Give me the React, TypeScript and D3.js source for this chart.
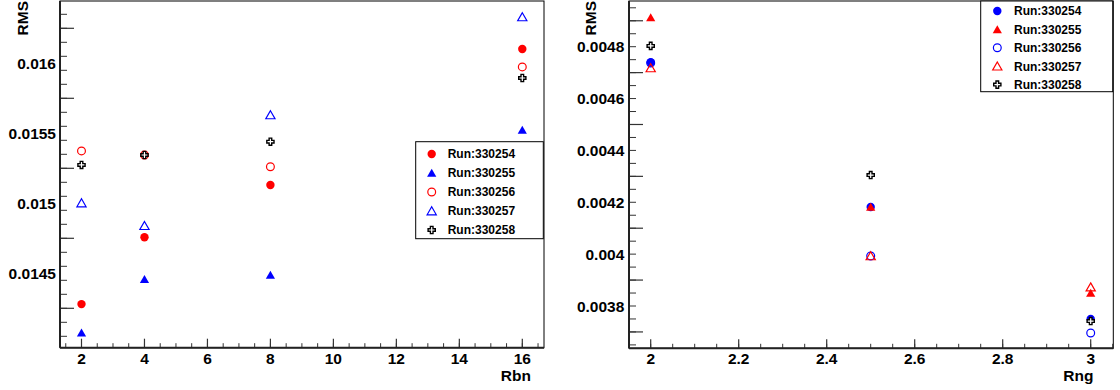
import React from "react";
import * as d3 from "d3";

const runLabels = ["Run:330254", "Run:330255", "Run:330256", "Run:330257", "Run:330258"];

const rbnValues = [2, 4, 8, 16];
const rbnRms254 = [0.01428, 0.014757, 0.015131, 0.016102];
const rbnRms255 = [0.014076, 0.014457, 0.014488, 0.015524];
const rbnRms256 = [0.015374, 0.015345, 0.015261, 0.015974];
const rbnRms257 = [0.015002, 0.01484, 0.015631, 0.016331];
const rbnRms258 = [0.015274, 0.015345, 0.01544, 0.015895];

const rngValues = [2, 2.5, 3];
const rngRms254 = [0.00474, 0.004182, 0.00375];
const rngRms255 = [0.004913, 0.004182, 0.00385];
const rngRms256 = [0.004737, 0.003993, 0.003696];
const rngRms257 = [0.004718, 0.003993, 0.003873];
const rngRms258 = [0.004803, 0.004305, 0.003742];

const rbnXTicks = [2, 4, 6, 8, 10, 12, 14, 16];
const rbnYLabels = [0.0145, 0.015, 0.0155, 0.016];
const rngXTicks = [2, 2.2, 2.4, 2.6, 2.8, 3];
const rngYLabels = [0.0038, 0.004, 0.0042, 0.0044, 0.0046, 0.0048];

const FONT = "'Liberation Sans', Arial, Helvetica, sans-serif";
const RED = "#ff0000";
const BLUE = "#0000ff";

type MarkerKind = "fcircle" | "ftri" | "ocircle" | "otri" | "cross";

function Marker({ kind, x, y, color }: { kind: MarkerKind; x: number; y: number; color: string }) {
  const tri = "M0,-4.2 L4.6,3.8 L-4.6,3.8 Z";
  const a = 3.6;
  const b = 1.3;
  const cross = `M${-b},${-a} L${b},${-a} L${b},${-b} L${a},${-b} L${a},${b} L${b},${b} L${b},${a} L${-b},${a} L${-b},${b} L${-a},${b} L${-a},${-b} L${-b},${-b} Z`;
  const t = `translate(${x},${y})`;
  switch (kind) {
    case "fcircle":
      return <circle cx={x} cy={y} r={4.2} fill={color} />;
    case "ocircle":
      return <circle cx={x} cy={y} r={3.9} fill="none" stroke={color} strokeWidth={1.2} />;
    case "ftri":
      return <path d={tri} transform={t} fill={color} />;
    case "otri":
      return <path d={tri} transform={t} fill="none" stroke={color} strokeWidth={1.2} />;
    case "cross":
      return <path d={cross} transform={t} fill="white" stroke={color} strokeWidth={1.4} />;
  }
}

type Series = { values: number[]; kind: MarkerKind; color: string };

type PanelProps = {
  frame: { x0: number; x1: number; y0: number; y1: number };
  xScale: d3.ScaleLinear<number, number>;
  yScale: d3.ScaleLinear<number, number>;
  xValues: number[];
  series: Series[];
  xTicks: number[];
  xMinorStep: number;
  xFmt: (v: number) => string;
  yLabels: number[];
  yMajorStart: number;
  yMajorStep: number;
  yMinorStep: number;
  yFmt: (v: number) => string;
  yLabelRight: number;
  yTitleX: number;
  xTitle: string;
  xTitleEnd: number;
  legend: { x: number; y: number; w: number; h: number; rowY0: number; rowStep: number; markerX: number; textX: number };
};

function Panel(p: PanelProps) {
  const { frame, xScale, yScale } = p;
  const [xd0, xd1] = [xScale.invert(frame.x0), xScale.invert(frame.x1)];
  const [yd0, yd1] = [yScale.invert(frame.y1), yScale.invert(frame.y0)];
  const eps = 1e-9;
  const xMinor: number[] = [];
  for (let v = Math.ceil(xd0 / p.xMinorStep - eps) * p.xMinorStep; v <= xd1 + eps; v += p.xMinorStep) xMinor.push(v);
  const yMinor: number[] = [];
  const yMajor: number[] = [];
  const startIdx = Math.ceil((yd0 - p.yMajorStart) / p.yMinorStep - eps);
  for (let k = startIdx; ; k++) {
    const v = p.yMajorStart + k * p.yMinorStep;
    if (v > yd1 + eps) break;
    yMinor.push(v);
  }
  const mStart = Math.ceil((yd0 - p.yMajorStart) / p.yMajorStep - eps);
  for (let k = mStart; ; k++) {
    const v = p.yMajorStart + k * p.yMajorStep;
    if (v > yd1 + eps) break;
    yMajor.push(v);
  }
  return (
    <g>
      <rect x={frame.x0} y={frame.y0} width={frame.x1 - frame.x0} height={frame.y1 - frame.y0} fill="white" stroke="black" strokeWidth={1} />
      {xMinor.map((v, i) => (
        <line key={"xm" + i} x1={xScale(v)} x2={xScale(v)} y1={frame.y1} y2={frame.y1 - 4.5} stroke="#333" strokeWidth={1} />
      ))}
      {p.xTicks.map((v, i) => (
        <line key={"xM" + i} x1={xScale(v)} x2={xScale(v)} y1={frame.y1} y2={frame.y1 - 9} stroke="#333" strokeWidth={1.2} />
      ))}
      {yMinor.map((v, i) => (
        <line key={"ym" + i} x1={frame.x0} x2={frame.x0 + 7} y1={yScale(v)} y2={yScale(v)} stroke="#333" strokeWidth={1} />
      ))}
      {yMajor.map((v, i) => (
        <line key={"yM" + i} x1={frame.x0} x2={frame.x0 + 14} y1={yScale(v)} y2={yScale(v)} stroke="#333" strokeWidth={1.2} />
      ))}
      <line x1={frame.x0} x2={frame.x0} y1={frame.y0} y2={frame.y1} stroke="#222" strokeWidth={2} />
      <line x1={frame.x0} x2={frame.x1} y1={frame.y1} y2={frame.y1} stroke="#222" strokeWidth={2} />
      {p.xTicks.map((v, i) => (
        <text key={"xl" + i} x={xScale(v)} y={364} textAnchor="middle" fontFamily={FONT} fontWeight="bold" fontSize={15.5}>
          {p.xFmt(v)}
        </text>
      ))}
      {p.yLabels.map((v, i) => (
        <text key={"yl" + i} x={p.yLabelRight} y={yScale(v) + 5.5} textAnchor="end" fontFamily={FONT} fontWeight="bold" fontSize={15.5}>
          {p.yFmt(v)}
        </text>
      ))}
      <text x={p.xTitleEnd} y={381} textAnchor="end" fontFamily={FONT} fontWeight="bold" fontSize={15.5}>
        {p.xTitle}
      </text>
      <text transform={`translate(${p.yTitleX},1) rotate(-90)`} textAnchor="end" fontFamily={FONT} fontWeight="bold" fontSize={15.5}>
        RMS
      </text>
      {p.series.map((s, si) => (
        <g key={"s" + si}>
          {s.values.map((v, i) => (
            <Marker key={i} kind={s.kind} x={xScale(p.xValues[i])} y={yScale(v)} color={s.color} />
          ))}
        </g>
      ))}
      <rect x={p.legend.x} y={p.legend.y} width={p.legend.w} height={p.legend.h} fill="white" stroke="black" strokeWidth={1} />
      {p.series.map((s, si) => {
        const cy = p.legend.rowY0 + si * p.legend.rowStep;
        return (
          <g key={"lg" + si}>
            <Marker kind={s.kind} x={p.legend.markerX} y={cy} color={s.color} />
            <text x={p.legend.textX} y={cy + 4.3} fontFamily={FONT} fontWeight="bold" fontSize={12}>
              {runLabels[si]}
            </text>
          </g>
        );
      })}
    </g>
  );
}

export default function App() {
  const leftX = d3.scaleLinear().domain([2, 16]).range([81.5, 522.3]);
  const leftY = d3.scaleLinear().domain([0.0145, 0.016]).range([273.3, 63.3]);
  const rightX = d3.scaleLinear().domain([2, 3]).range([650.7, 1090.7]);
  const rightY = d3.scaleLinear().domain([0.0038, 0.0048]).range([306, 46.7]);

  const leftSeries: Series[] = [
    { values: rbnRms254, kind: "fcircle", color: RED },
    { values: rbnRms255, kind: "ftri", color: BLUE },
    { values: rbnRms256, kind: "ocircle", color: RED },
    { values: rbnRms257, kind: "otri", color: BLUE },
    { values: rbnRms258, kind: "cross", color: "black" },
  ];
  const rightSeries: Series[] = [
    { values: rngRms254, kind: "fcircle", color: BLUE },
    { values: rngRms255, kind: "ftri", color: RED },
    { values: rngRms256, kind: "ocircle", color: BLUE },
    { values: rngRms257, kind: "otri", color: RED },
    { values: rngRms258, kind: "cross", color: "black" },
  ];

  const fmtX = (v: number) => d3.format("~g")(v);
  const fmtY = (v: number) => String(+v.toPrecision(6));

  return (
    <svg width={1120} height={390} style={{ position: "fixed", left: 0, top: 0, background: "white" }}>
      <rect x={0} y={0} width={1120} height={390} fill="white" />
      <Panel
        frame={{ x0: 60, x1: 544, y0: 1, y1: 347.7 }}
        xScale={leftX}
        yScale={leftY}
        xValues={rbnValues}
        series={leftSeries}
        xTicks={rbnXTicks}
        xMinorStep={0.5}
        xFmt={fmtX}
        yLabels={rbnYLabels}
        yMajorStart={0.01425}
        yMajorStep={0.0005}
        yMinorStep={0.0001}
        yFmt={fmtY}
        yLabelRight={56}
        yTitleX={28}
        xTitle="Rbn"
        xTitleEnd={531}
        legend={{ x: 415.7, y: 141.7, w: 127.6, h: 97, rowY0: 154, rowStep: 19, markerX: 431.7, textX: 447.7 }}
      />
      <Panel
        frame={{ x0: 629, x1: 1113.3, y0: 1, y1: 348.3 }}
        xScale={rightX}
        yScale={rightY}
        xValues={rngValues}
        series={rightSeries}
        xTicks={rngXTicks}
        xMinorStep={0.05}
        xFmt={fmtX}
        yLabels={rngYLabels}
        yMajorStart={0.0037}
        yMajorStep={0.0002}
        yMinorStep={0.00005}
        yFmt={fmtY}
        yLabelRight={624.3}
        yTitleX={595.5}
        xTitle="Rng"
        xTitleEnd={1093.5}
        legend={{ x: 980.7, y: 1, w: 132, h: 90.7, rowY0: 11, rowStep: 18.4, markerX: 997.3, textX: 1014 }}
      />
    </svg>
  );
}
